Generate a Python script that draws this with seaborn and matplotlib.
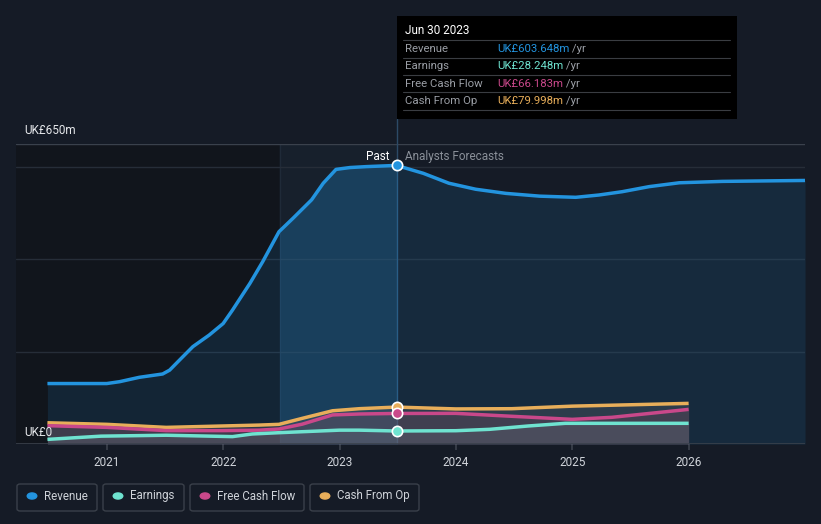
import numpy as np
import pandas as pd
import seaborn as sns
import matplotlib.pyplot as plt
from matplotlib.patches import FancyBboxPatch

# values in UK£m, x in decimal years
rev_x = [2020.49, 2021.0, 2021.11, 2021.28, 2021.48, 2021.54, 2021.64, 2021.74, 2021.88,
         2022.0, 2022.08, 2022.23, 2022.34, 2022.48, 2022.60, 2022.76, 2022.86, 2022.97,
         2023.09, 2023.23, 2023.49, 2023.72, 2023.94, 2024.17, 2024.43, 2024.72, 2025.03,
         2025.23, 2025.43, 2025.66, 2025.92, 2026.29, 2027.0]
rev_y = [131, 131, 135, 144.5, 151.7, 160, 185.6, 211, 236, 261, 290, 348, 395, 460, 489,
         529, 565, 595, 599, 601, 603.6, 586.5, 565, 552, 543, 537, 534.5, 539.5, 546.7,
         557.6, 566, 569, 571]

earn_x = [2020.49, 2020.95, 2021.51, 2022.08, 2022.25, 2022.48, 2023.0, 2023.17, 2023.49,
          2024.0, 2024.29, 2024.62, 2024.94, 2026.0]
earn_y = [10, 17, 19, 16, 21.7, 24.5, 30, 30, 28.2, 28.8, 31.8, 39, 44.8, 44.8]

fcf_x = [2020.49, 2021.0, 2021.51, 2021.99, 2022.31, 2022.48, 2022.68, 2022.94, 2023.17,
         2023.49, 2024.0, 2024.43, 2025.0, 2025.34, 2026.0]
fcf_y = [39.7, 36, 29, 29, 30, 32.5, 43, 63, 65, 66.2, 66.4, 60.7, 53.4, 57.8, 75]

cfo_x = [2020.49, 2021.0, 2021.51, 2021.99, 2022.31, 2022.48, 2022.68, 2022.94, 2023.17,
         2023.49, 2024.0, 2024.48, 2025.0, 2026.0]
cfo_y = [46, 42.6, 36, 39, 41, 42.6, 55.6, 72, 76.5, 80.0, 76, 76.5, 82, 88]

year_ticks = [2021, 2022, 2023, 2024, 2025, 2026]
now_x = 2023.49
band_start = 2022.49

BG = '#151b26'
C_REV = '#2394df'
C_EARN = '#6fe3d0'
C_FCF = '#c9488a'
C_CFO = '#e8ae5a'

sns.set_theme(style='dark')
plt.rcParams['font.family'] = ['Roboto', 'DejaVu Sans']

fig = plt.figure(figsize=(8.21, 5.24), dpi=100, facecolor=BG)
ax = fig.add_axes([16 / 821, 1 - 444 / 524, 789 / 821, 300 / 524])
ax.set_facecolor(BG)
ax.set_xlim(2020.22, 2027.0)
ax.set_ylim(0, 650)

# darker past region, faint highlight band
ax.axvspan(2020.22, band_start, color='#11151c', zorder=0)
ax.axvspan(band_start, now_x, color='#17202c', zorder=0)
ax.axvline(band_start, color='#1f2a38', lw=1, zorder=0.6)

for v in [200, 400, 600]:
    ax.axhline(v, color='#262d38', lw=1, zorder=1)
ax.axhline(650, color='#3a414c', lw=1, zorder=1)
ax.axhline(0, color='#3a414c', lw=1.2, zorder=6)

# fills
ax.fill_between(rev_x, rev_y, color=C_REV, alpha=0.13, lw=0, zorder=2)
extra = ax.fill_between(rev_x, rev_y, color=C_REV, alpha=0.16, lw=0, zorder=2.1)
clip = plt.Rectangle((band_start, 0), now_x - band_start, 650, transform=ax.transData)
extra.set_clip_path(clip)
ax.fill_between(cfo_x, cfo_y, color='#5a5f66', alpha=0.35, lw=0, zorder=3)
ax.fill_between(fcf_x, fcf_y, color='#7a4a60', alpha=0.25, lw=0, zorder=3)
ax.fill_between(earn_x, earn_y, color='#6a7480', alpha=0.25, lw=0, zorder=3)

series = [(rev_x, rev_y, C_REV), (cfo_x, cfo_y, C_CFO), (fcf_x, fcf_y, C_FCF),
          (earn_x, earn_y, C_EARN)]
for xs, ys, c in series:
    df = pd.DataFrame({'x': xs, 'y': ys})
    sns.lineplot(data=df, x='x', y='y', ax=ax, color=c, lw=2.5, zorder=4,
                 solid_joinstyle='round', solid_capstyle='butt')
    ax.scatter([now_x], [np.interp(now_x, xs, ys)], s=55, color=c, edgecolor='white',
               linewidth=1.2, zorder=7)

ax.axvline(now_x, color='#2c4a66', lw=1, zorder=1.5)
ax.plot([now_x, now_x], [650, 705], color='#2c4a66', lw=1, clip_on=False, zorder=1.5)

ax.set_xticks(year_ticks)
ax.set_xticklabels([str(y) for y in year_ticks], color='#d0d4da', fontsize=8.5)
ax.tick_params(axis='x', length=4, color='#3a414c', pad=5, bottom=True)
ax.set_yticks([])
ax.set_xlabel('')
ax.set_ylabel('')
for s in ax.spines.values():
    s.set_visible(False)

ax.text(now_x - 0.06, 622, 'Past', color='white', fontsize=8.5, ha='right', va='center')
ax.text(now_x + 0.07, 622, 'Analysts Forecasts', color='#8a9099', fontsize=8.5,
        ha='left', va='center')
fig.text(24 / 821, 1 - 131 / 524, 'UK£650m', color='#e6e8eb', fontsize=8.5, va='center')
fig.text(24 / 821, 1 - 432 / 524, 'UK£0', color='#e6e8eb', fontsize=8.5, va='center')

# tooltip
tip = fig.add_axes([397 / 821, 1 - 119 / 524, 340 / 821, 103 / 524])
tip.set_xlim(0, 340)
tip.set_ylim(103, 0)
tip.axis('off')
tip.add_patch(plt.Rectangle((0, 0), 340, 103, color='black'))
tip.text(8, 15, 'Jun 30 2023', color='white', fontsize=8.5, va='center')
rows = [('Revenue', 'UK£603.648m', C_REV), ('Earnings', 'UK£28.248m', C_EARN),
        ('Free Cash Flow', 'UK£66.183m', C_FCF), ('Cash From Op', 'UK£79.998m', C_CFO)]
for i, (lab, val, c) in enumerate(rows):
    y0 = 33 + i * 17.3
    tip.plot([6, 333], [y0 - 8.5, y0 - 8.5], color='#3a3d42', lw=0.8)
    tip.text(8, y0, lab, color='#9a9ea5', fontsize=8.2, va='center')
    t = tip.text(100, y0, val, color=c, fontsize=8.2, va='center')
    tip.annotate(' /yr', xycoords=t, xy=(1, 0.5), va='center', color='#9a9ea5',
                 fontsize=8.2)
tip.plot([6, 333], [33 + 4 * 17.3 - 8.5] * 2, color='#3a3d42', lw=0.8)

# legend boxes
leg = [('Revenue', C_REV, 17, 97), ('Earnings', C_EARN, 103, 184),
       ('Free Cash Flow', C_FCF, 190, 304), ('Cash From Op', C_CFO, 310, 419)]
for lab, c, x0, x1 in leg:
    fig.patches.append(FancyBboxPatch((x0 / 821, 1 - 511 / 524), (x1 - x0) / 821, 27 / 524,
                                      boxstyle='round,pad=0,rounding_size=0.004',
                                      transform=fig.transFigure, facecolor='none',
                                      edgecolor='#3a404a', lw=1))
    fig.patches.append(plt.Circle(((x0 + 15) / 821, 1 - 496 / 524), 0.0058,
                                  transform=fig.transFigure, color=c))
    fig.text((x0 + 27) / 821, 1 - 496 / 524, lab, color='#cfd3d9', fontsize=8.3,
             va='center')

fig.savefig('out.png', dpi=100, facecolor=BG)
